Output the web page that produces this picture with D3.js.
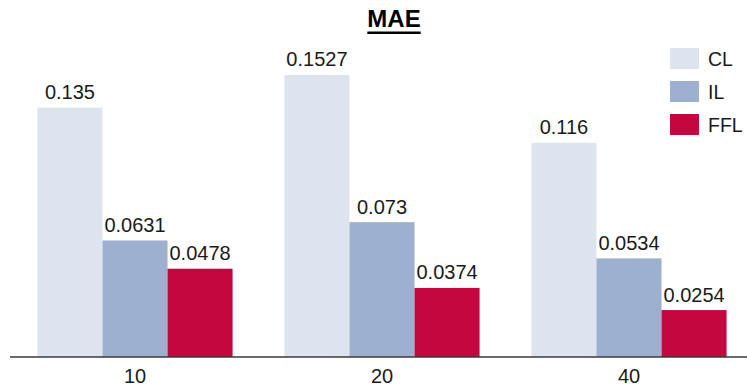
<!DOCTYPE html>
<html><head><meta charset="utf-8">
<script src="https://cdn.jsdelivr.net/npm/d3@7"></script>
<style>body{margin:0;background:#fff}svg{display:block}text{font-family:"Liberation Sans",Arial,sans-serif;fill:#1a1a1a}</style>
</head><body><svg id="c" width="747" height="386"></svg>
<script>
const categories = ["10", "20", "40"];
const seriesNames = ["CL", "IL", "FFL"];
const CL = [0.135, 0.1527, 0.116];
const IL = [0.0631, 0.073, 0.0534];
const FFL = [0.0478, 0.0374, 0.0254];
const colors = ["#dde4ef", "#9db0cf", "#c4073e"];
const title = "MAE";

const series = [CL, IL, FFL];
const svg = d3.select("#c");
const W = 747, H = 386, base = 357;

const x0 = d3.scaleBand().domain(categories).range([11.5, 752.5]).paddingInner(0.21).paddingOuter(0.105);
const x1 = d3.scaleBand().domain(seriesNames).range([0, x0.bandwidth()]);
const y = d3.scaleLinear().domain([0, 0.1933]).range([base, 0]);
const color = d3.scaleOrdinal().domain(seriesNames).range(colors);

const data = categories.map((c, i) => ({c, vals: seriesNames.map((s, j) => ({s, v: series[j][i]}))}));

const g = svg.selectAll("g.grp").data(data).join("g").attr("class", "grp")
  .attr("transform", d => `translate(${x0(d.c)},0)`);
g.selectAll("rect").data(d => d.vals).join("rect")
  .attr("x", d => x1(d.s)).attr("width", x1.bandwidth())
  .attr("y", d => y(d.v)).attr("height", d => base - y(d.v))
  .attr("fill", d => color(d.s));
g.selectAll("text.val").data(d => d.vals).join("text").attr("class", "val")
  .attr("x", d => x1(d.s) + x1.bandwidth() / 2).attr("y", d => y(d.v) - 8.5)
  .attr("text-anchor", "middle").style("font-size", "20px").text(d => d.v);

// axis
const ax = svg.append("g").attr("transform", `translate(0,${base})`)
  .call(d3.axisBottom(x0).tickSize(0).tickPadding(0).tickSizeOuter(0));
ax.select(".domain").remove();
ax.selectAll(".tick text").attr("dy", null).attr("y", 26).style("font-size", "20px")
  .style("font-family", '"Liberation Sans",Arial,sans-serif').attr("fill", "#1a1a1a");
svg.append("line").attr("x1", 10).attr("x2", W).attr("y1", base).attr("y2", base)
  .attr("stroke", "#3a3a3a").attr("stroke-width", 1.5);

// title
const t = svg.append("text").attr("x", 394).attr("y", 27).attr("text-anchor", "middle")
  .style("font-size", "24px").style("font-weight", "bold").style("fill", "#000").text(title);
const bb = t.node().getBBox();
svg.append("rect").attr("x", bb.x).attr("width", bb.width).attr("y", 31.5).attr("height", 2.5).attr("fill", "#000");

// legend
const lg = svg.append("g").selectAll("g").data(seriesNames).join("g")
  .attr("transform", (d, i) => `translate(670,${48 + i * 33})`);
lg.append("rect").attr("width", 29).attr("height", 21).attr("fill", d => color(d));
lg.append("text").attr("x", 38).attr("y", 17.5).style("font-size", "19.5px").text(d => d);
</script></body></html>
